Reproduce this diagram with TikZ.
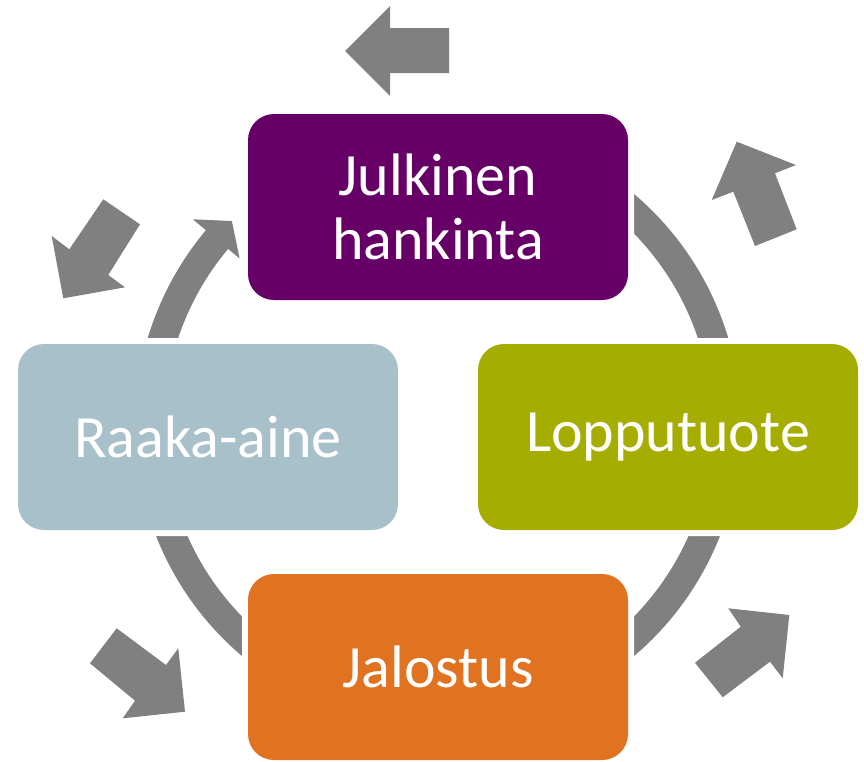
\documentclass[tikz,border=0pt]{standalone}
\usepackage{fontspec}
\setmainfont{Carlito}
\definecolor{agray}{RGB}{128,128,128}
\definecolor{cpurple}{RGB}{102,0,102}
\definecolor{cgreen}{RGB}{165,173,0}
\definecolor{corange}{RGB}{224,114,32}
\definecolor{cblue}{RGB}{168,192,202}
\tikzset{
  box/.style={rounded corners=26, minimum width=380, minimum height=186,
    preaction={draw=white, line width=12}, text=white, align=center,
    font=\fontsize{60}{64}\selectfont, inner sep=0},
  band/.style={draw=agray, line width=29, line cap=butt},
  blockarrow/.style={fill=agray}
}
\begin{document}
\begin{tikzpicture}[x=1pt, y=-1pt]
\useasboundingbox (0,0) rectangle (864,761);
% circular connectors
\begin{scope}[shift={(438,425)}]
  \draw[band] (-80:288.5) arc[start angle=-80, end angle=-10, radius=288.5];
  \draw[band] (10:288.5) arc[start angle=10, end angle=80, radius=288.5];
  \draw[band] (100:288.5) arc[start angle=100, end angle=170, radius=288.5];
  \fill[agray] (-170:303) arc[start angle=-170, end angle=-140, radius=303]
    -- (-140:320) -- (-135.3:290) -- (-140:259) -- (-140:274)
    arc[start angle=-140, end angle=-170, radius=274] -- cycle;
\end{scope}
% boxes
\node[box, fill=cpurple] (top) at (438,207) {Julkinen\\hankinta};
\node[box, fill=cgreen] (right) at (668,437) {Lopputuote};
\node[box, fill=corange] (bottom) at (438,667) {Jalostus};
\node[box, fill=cblue] (left) at (208,437) {Raaka-aine};
% outer block arrows
\fill[blockarrow] (345,51) -- (390,6) -- (390,28) -- (449,28) -- (449,73) -- (390,73) -- (390,96) -- cycle;
\fill[blockarrow] (736.7,141.7) -- (796,165) -- (775,173.3) -- (796.7,229.3) -- (755,246) -- (733.3,191.7) -- (711.7,200) -- cycle;
\fill[blockarrow] (63.3,298.3) -- (51.7,236) -- (69.3,249.3) -- (103.3,199.3) -- (140,224.3) -- (108.3,275) -- (125,287.3) -- cycle;
\fill[blockarrow] (185,711.7) -- (122.7,718.3) -- (135,700.7) -- (90,663.3) -- (116.7,628.3) -- (166,665) -- (178.3,648.3) -- cycle;
\fill[blockarrow] (789.3,615) -- (782.7,678.3) -- (770,661.7) -- (722.7,697.3) -- (695,662.7) -- (740.7,626.7) -- (728.3,608.3) -- cycle;
\end{tikzpicture}
\end{document}
